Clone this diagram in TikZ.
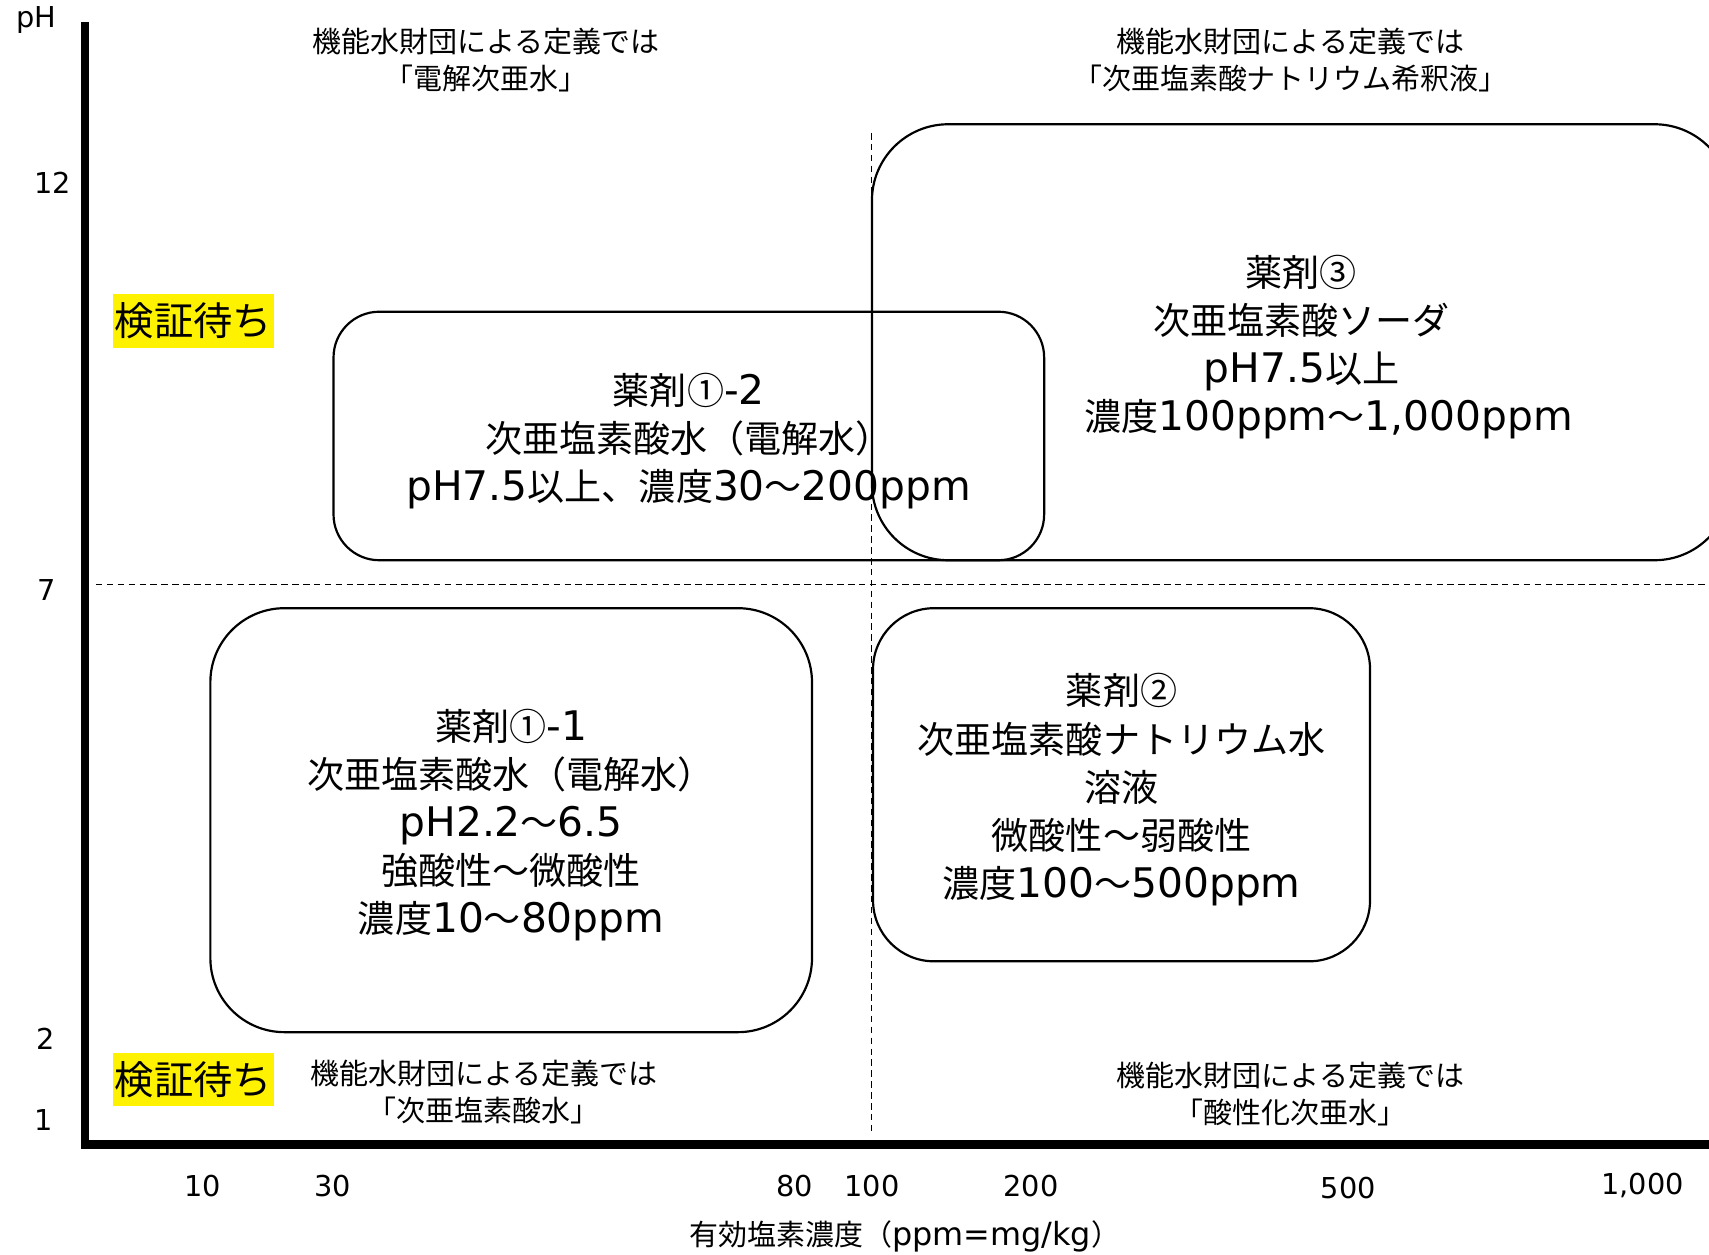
\documentclass[tikz,border=0pt]{standalone}
\usepackage{fontspec}
\setmainfont{DejaVu Sans}[Scale=1.1]
\newfontfamily\J{Noto Sans CJK JP}
\begin{document}
\begin{tikzpicture}[x=0.5pt,y=-0.5pt,
  box/.style={draw, line width=1pt, rounded corners=#1, inner sep=0pt},
  txt/.style={align=center, inner sep=0pt, font=\fontsize{17}{22.1}\selectfont},
  note/.style={align=center, inner sep=0pt, font=\fontsize{13.3}{17}\selectfont},
  tick/.style={inner sep=0pt, font=\fontsize{12}{14}\selectfont},
  wait/.style={fill=yellow, inner sep=0pt, minimum width=73.5pt, minimum height=24.5pt,
               font=\fontsize{18}{20}\selectfont},
  dline/.style={line width=0.5pt, dash pattern=on 3pt off 2pt},
  axis/.style={line width=4pt}]
\useasboundingbox (0,0) rectangle (1568,1151);
\clip (0,0) rectangle (1568,1151);
% coordinates
\coordinate (ytop) at (78,20);
\coordinate (origin) at (78,1050);
\coordinate (xend) at (1570,1050);
\coordinate (hl) at (88,536);
\coordinate (hr) at (1568,536);
\coordinate (vt) at (800,122);
\coordinate (vb) at (800,1040);
% dashed guides
\draw[dline] (hl) -- (hr);
\draw[dline] (vt) -- (vb);
% axes
\draw[axis] (ytop) -- (origin) -- (xend);
% axis labels
\node[tick] (ph) at (33,18) {pH};
\node[tick] (y12) at (48,168) {12};
\node[tick] (y7) at (43,541) {7};
\node[tick] (y2) at (42,953) {2};
\node[tick] (y1) at (40,1028) {1};
\node[tick] (x10) at (186,1088) {10};
\node[tick] (x30) at (305,1088) {30};
\node[tick] (x80) at (729,1088) {80};
\node[tick] (x100) at (800,1088) {100};
\node[tick] (x200) at (946,1088) {200};
\node[tick] (x500) at (1237,1090) {500};
\node[tick] (x1000) at (1507,1088) {1,000};
\node[note] (xtitle) at (830,1134) {{\J 有効塩素濃度（}ppm=mg/kg{\J ）}};
% annotations
\node[note] (ntl) at (446,55) {{\J 機能水財団による定義では}\\{\J 「電解次亜水」}};
\node[note] (ntr) at (1184,55) {{\J 機能水財団による定義では}\\{\J 「次亜塩素酸ナトリウム希釈液」}};
\node[note] (nbl) at (444,1001.5) {{\J 機能水財団による定義では}\\{\J 「次亜塩素酸水」}};
\node[note] (nbr) at (1184,1003.5) {{\J 機能水財団による定義では}\\{\J 「酸性化次亜水」}};
% pending labels
\node[wait] (w1) at (177.5,294.5) {\J 検証待ち};
\node[wait] (w2) at (177.5,990.5) {\J 検証待ち};
% boxes
\node[box=35pt, minimum width=394pt, minimum height=200pt] (b3) at (1194,314) {};
\node[box=21pt, minimum width=326pt, minimum height=114pt] (b12) at (632,400) {};
\node[box=34pt, minimum width=276pt, minimum height=194.5pt] (b11) at (469,752.5) {};
\node[box=28pt, minimum width=228pt, minimum height=162pt] (b2) at (1029,720) {};
% box texts
\node[txt] (t3) at ([yshift=-2.3pt]b3.center)
  {{\J 薬剤③}\\{\J 次亜塩素酸ソーダ}\\pH7.5{\J 以上}\\\hspace*{25pt}{\J 濃度}100ppm{\J ～}1,000ppm};
\node[txt] (t12) at ([yshift=-2.3pt]b12.center)
  {{\J 薬剤①}-2\\{\J 次亜塩素酸水（電解水）}\\pH7.5{\J 以上、濃度}30{\J ～}200ppm};
\node[txt] (t11) at ([yshift=-2.3pt]b11.center)
  {{\J 薬剤①}-1\\{\J 次亜塩素酸水（電解水）}\\pH2.2{\J ～}6.5\\{\J 強酸性～微酸性}\\{\J 濃度}10{\J ～}80ppm};
\node[txt] (t2) at ([yshift=-2.3pt]b2.center)
  {{\J 薬剤②}\\{\J 次亜塩素酸ナトリウム水}\\{\J 溶液}\\{\J 微酸性～弱酸性}\\{\J 濃度}100{\J ～}500ppm};
\end{tikzpicture}
\end{document}
